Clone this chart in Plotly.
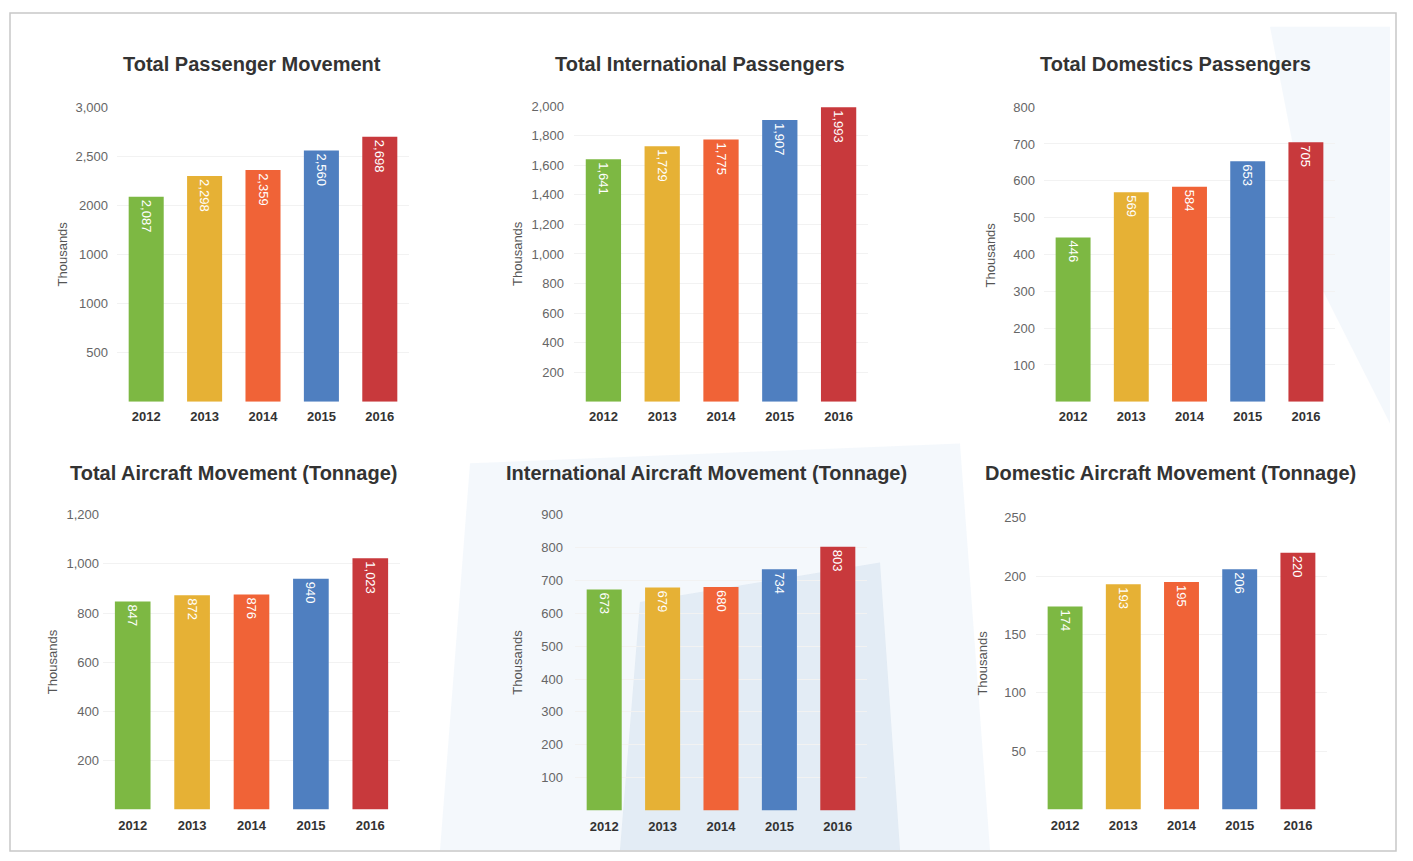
import plotly.graph_objects as go

W, H = 1413, 861

years = ["2012", "2013", "2014", "2015", "2016"]
colors = ["#7db843", "#e6b135", "#f06337", "#4f7fc0", "#c8393c"]

titles = [
    "Total Passenger Movement",
    "Total International Passengers",
    "Total Domestics Passengers",
    "Total Aircraft Movement (Tonnage)",
    "International Aircraft Movement (Tonnage)",
    "Domestic Aircraft Movement (Tonnage)",
]

total_pax = [2087, 2298, 2359, 2560, 2698]
intl_pax = [1641, 1729, 1775, 1907, 1993]
dom_pax = [446, 569, 584, 653, 705]
total_acm = [847, 872, 876, 940, 1023]
intl_acm = [673, 679, 680, 734, 803]
dom_acm = [174, 193, 195, 206, 220]

series = [total_pax, intl_pax, dom_pax, total_acm, intl_acm, dom_acm]

tickvals = [
    [500, 1000, 1500, 2000, 2500, 3000],
    [200, 400, 600, 800, 1000, 1200, 1400, 1600, 1800, 2000],
    [100, 200, 300, 400, 500, 600, 700, 800],
    [200, 400, 600, 800, 1000, 1200],
    [100, 200, 300, 400, 500, 600, 700, 800, 900],
    [50, 100, 150, 200, 250],
]
ticktexts = [
    ["500", "1000", "1000", "2000", "2,500", "3,000"],
    ["200", "400", "600", "800", "1,000", "1,200", "1,400", "1,600", "1,800", "2,000"],
    ["100", "200", "300", "400", "500", "600", "700", "800"],
    ["200", "400", "600", "800", "1,000", "1,200"],
    ["100", "200", "300", "400", "500", "600", "700", "800", "900"],
    ["50", "100", "150", "200", "250"],
]
yranges = [[0, 3000], [0, 2000], [0, 800], [0, 1200], [0, 900], [0, 250]]

# layout geometry in pixels
xdom_px = [(117, 409), (574, 868), (1044, 1335), (103, 400), (575, 867), (1036, 1327)]
ydom_px = [(101, 398), (100, 398), (101, 398), (512, 809), (512, 810), (515, 809)]
standoff = [8, 9, 8, 3, 11, 9]
xstandoff = [5, 5, 5, 7, 7, 7]
title_pos = [(252, 57), (700, 57), (1175, 57), (233, 470), (706, 470), (1170, 470)]
ytitle_x = [62, 518, 990, 52, 518, 983]

fig = go.Figure()
annotations = []
for i in range(6):
    xa = "x" if i == 0 else f"x{i+1}"
    ya = "y" if i == 0 else f"y{i+1}"
    vals = series[i]
    fig.add_trace(go.Bar(
        x=years, y=vals, xaxis=xa, yaxis=ya,
        marker=dict(color=colors, line=dict(width=0)),
        width=0.6,
        text=[f"{v:,}" for v in vals],
        textposition="inside", insidetextanchor="end",
        textangle=90,
        textfont=dict(color="white", size=13, family="Liberation Sans"),
        showlegend=False, hoverinfo="x+y",
    ))
    x0, x1 = xdom_px[i]
    y0, y1 = ydom_px[i]
    fig.layout[f"xaxis{'' if i == 0 else i+1}"] = dict(
        domain=[x0 / W, x1 / W], anchor=ya, showgrid=False, zeroline=False,
        showline=False, ticks="", ticklabelstandoff=xstandoff[i],
        tickfont=dict(size=13, color="#333333", family="Liberation Sans"),
        tickprefix="<b>", ticksuffix="</b>", fixedrange=True,
    )
    fig.layout[f"yaxis{'' if i == 0 else i+1}"] = dict(
        domain=[1 - y1 / H, 1 - y0 / H], anchor=xa, range=yranges[i],
        tickvals=tickvals[i], ticktext=ticktexts[i],
        showgrid=True, gridcolor="#f2f2f2", gridwidth=1, zeroline=False,
        showline=False, ticks="", ticklabelstandoff=standoff[i],
        tickfont=dict(size=13, color="#666666", family="Liberation Sans"),
        fixedrange=True,
    )
    tx, ty = title_pos[i]
    annotations.append(dict(
        text=f"<b>{titles[i]}</b>", x=tx / W, y=1 - ty / H, xref="paper", yref="paper",
        showarrow=False, xanchor="center", yanchor="middle",
        font=dict(size=20, color="#333333", family="Liberation Sans"),
    ))
    annotations.append(dict(
        text="Thousands", x=ytitle_x[i] / W, y=1 - ((y0 + y1) / 2) / H,
        xref="paper", yref="paper", showarrow=False, textangle=-90,
        xanchor="center", yanchor="middle",
        font=dict(size=13, color="#555555", family="Liberation Sans"),
    ))

shapes = [
    # faint sky-like background tint
    dict(type="path", xref="paper", yref="paper", layer="below",
         path=f"M {470/W},{1-460/H} L {960/W},{1-440/H} L {990/W},{1-850/H} L {440/W},{1-850/H} Z",
         fillcolor="rgba(205,222,240,0.22)", line=dict(width=0)),
    dict(type="path", xref="paper", yref="paper", layer="below",
         path=f"M {640/W},{1-600/H} L {880/W},{1-560/H} L {900/W},{1-850/H} L {620/W},{1-850/H} Z",
         fillcolor="rgba(175,200,225,0.25)", line=dict(width=0)),
    dict(type="path", xref="paper", yref="paper", layer="below",
         path=f"M {1270/W},{1-20/H} L {1390/W},{1-20/H} L {1390/W},{1-420/H} L {1320/W},{1-280/H} Z",
         fillcolor="rgba(210,228,245,0.25)", line=dict(width=0)),
    # card border
    dict(type="rect", xref="paper", yref="paper", layer="below",
         x0=10 / W, x1=1396 / W, y0=1 - 851 / H, y1=1 - 6 / H,
         line=dict(color="#c8c8c8", width=1.5), fillcolor="rgba(0,0,0,0)"),
]

fig.update_layout(
    width=W, height=H, margin=dict(l=0, r=0, t=0, b=0),
    paper_bgcolor="white", plot_bgcolor="rgba(0,0,0,0)",
    annotations=annotations, shapes=shapes, bargap=0.4,
)

fig.write_html("out.html")
